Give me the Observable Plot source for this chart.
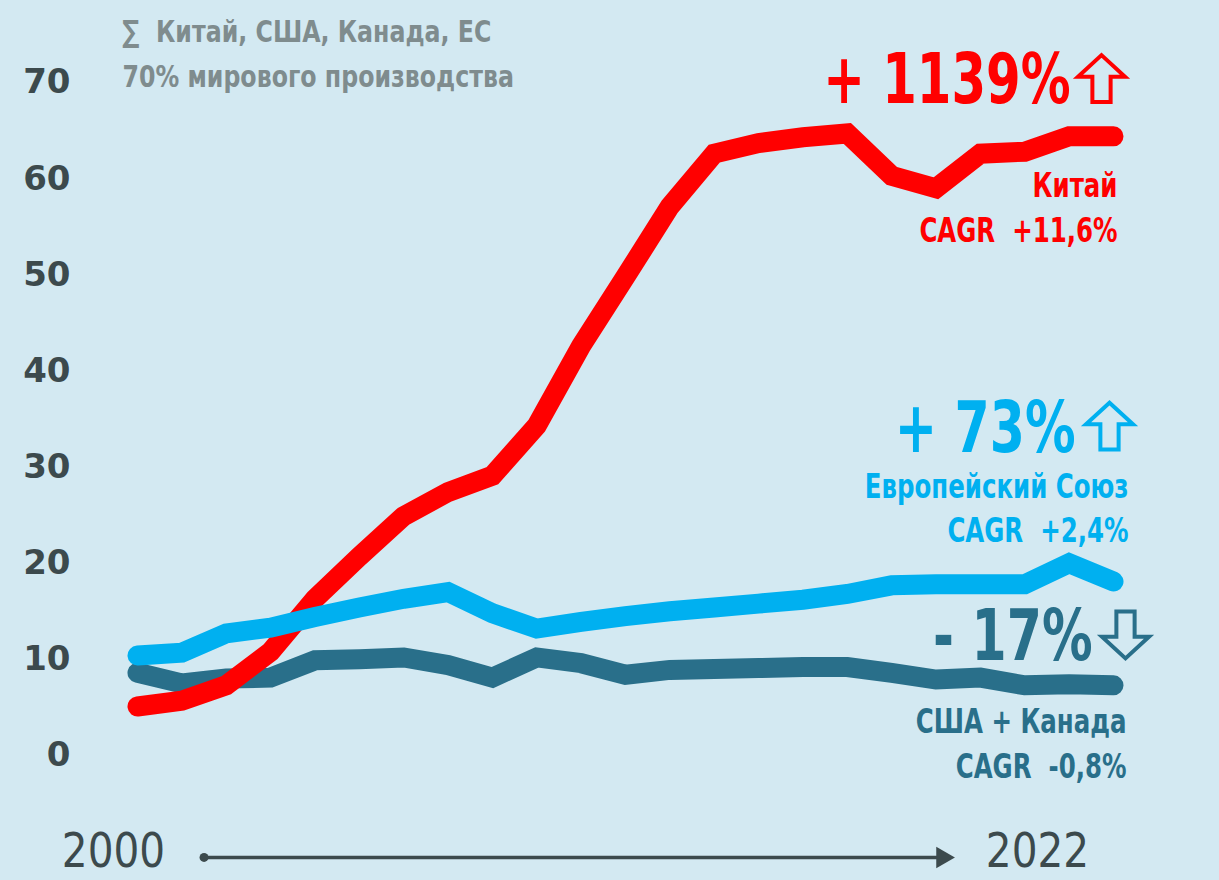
<!DOCTYPE html>
<html>
<head>
<meta charset="utf-8">
<script src="https://cdn.jsdelivr.net/npm/d3@7"></script>
<script src="https://cdn.jsdelivr.net/npm/@observablehq/plot@0.6"></script>
<style>
  html, body { margin: 0; padding: 0; background: #d3e9f2; overflow: hidden; }
  #chart svg { display: block; }
</style>
</head>
<body>
<div id="chart"></div>
<script>
const years = d3.range(2000, 2023);
const china = [5.1, 5.7, 7.3, 10.8, 16.3, 20.7, 24.9, 27.4, 29.1, 34.3, 42.6, 49.8, 57.1, 62.6, 63.7, 64.3, 64.7, 60.3, 59.0, 62.6, 62.8, 64.4, 64.4];
const eu = [10.4, 10.7, 12.7, 13.3, 14.4, 15.4, 16.3, 17.0, 14.8, 13.2, 13.9, 14.5, 15.0, 15.4, 15.8, 16.2, 16.8, 17.7, 17.8, 17.8, 17.8, 20.0, 18.1];
const usca = [8.6, 7.5, 8.0, 8.1, 9.9, 10.0, 10.2, 9.4, 8.1, 10.2, 9.6, 8.4, 8.9, 9.0, 9.1, 9.2, 9.2, 8.6, 7.9, 8.1, 7.3, 7.4, 7.3];
const seriesNames = ["США + Канада", "Китай", "Европейский Союз"];
const seriesColors = ["#296f8a", "#ff0000", "#00b0f0"];
const yTicks = [0, 10, 20, 30, 40, 50, 60, 70];

const rows = [];
[usca, china, eu].forEach((arr, k) => arr.forEach((v, i) => rows.push({series: seriesNames[k], year: years[i], value: v})));

const cond = "'DejaVu Sans Condensed', 'Liberation Sans Narrow', sans-serif";
const gray = "#7f8c8e";
const dark = "#3c4a4d";
// horizontal squeeze per font size (to imitate a narrow typeface)
const squeeze = {"31": 0.85, "34": 0.8, "48": 0.94, "70": 0.79, "72": 0.78};

// hollow block arrow symbols
function blockArrow(dir) {
  return {
    draw(ctx, size) {
      const s = Math.sqrt(size / Math.PI);
      const pts = [[0, -1], [0.98, -0.1], [0.38, -0.1], [0.38, 0.95], [-0.38, 0.95], [-0.38, -0.1], [-0.98, -0.1]];
      pts.forEach(([px, py], i) => {
        const X = px * s, Y = py * s * dir;
        if (i === 0) ctx.moveTo(X, Y); else ctx.lineTo(X, Y);
      });
      ctx.closePath();
    }
  };
}
const upArrow = blockArrow(1);
const downArrow = blockArrow(-1);

const chart = Plot.plot({
  width: 1219,
  height: 880,
  marginTop: 82,
  marginBottom: 125,
  marginLeft: 137,
  marginRight: 106,
  style: {background: "#d3e9f2"},
  x: {domain: [2000, 2022], axis: null},
  y: {domain: [0, 70], axis: null},
  color: {domain: seriesNames, range: seriesColors},
  marks: [
    Plot.axisY({ticks: yTicks, tickSize: 0, tickPadding: 67, label: null,
      fontSize: 34, fontWeight: "bold", fontFamily: "'DejaVu Sans', sans-serif", fill: dark}),
    Plot.line(rows, {x: "year", y: "value", z: "series", stroke: "series",
      strokeWidth: 20, strokeLinecap: "round", strokeLinejoin: "miter", strokeMiterlimit: 2}),
    // top-left note
    Plot.text(["∑  Китай, США, Канада, ЕС"], {x: 2000, y: 75.2, dx: -15, textAnchor: "start",
      fontSize: 31, fontWeight: "bold", fontFamily: cond, fill: gray}),
    Plot.text(["70% мирового производства"], {x: 2000, y: 70.6, dx: -15, textAnchor: "start",
      fontSize: 31, fontWeight: "bold", fontFamily: cond, fill: gray}),
    // China
    Plot.text(["+ 1139%"], {x: 2022, y: 70.2, dx: -43, textAnchor: "end",
      fontSize: 70, fontWeight: "bold", fontFamily: cond, fill: "#ff0000"}),
    Plot.dot([0], {x: 2022, y: 70.35, dx: -12, r: 24, symbol: upArrow, fill: "none", stroke: "#ff0000", strokeWidth: 4}),
    Plot.text(["Китай"], {x: 2022, y: 59.2, dx: 4, textAnchor: "end",
      fontSize: 34, fontWeight: "bold", fontFamily: cond, fill: "#ff0000"}),
    Plot.text(["CAGR  +11,6%"], {x: 2022, y: 54.5, dx: 4, textAnchor: "end",
      fontSize: 34, fontWeight: "bold", fontFamily: cond, fill: "#ff0000"}),
    // EU
    Plot.text(["+ 73%"], {x: 2022, y: 34.0, dx: -38, textAnchor: "end",
      fontSize: 72, fontWeight: "bold", fontFamily: cond, fill: "#00b0f0"}),
    Plot.dot([0], {x: 2022, y: 34.2, dx: -4, r: 24, symbol: upArrow, fill: "none", stroke: "#00b0f0", strokeWidth: 4}),
    Plot.text(["Европейский Союз"], {x: 2022, y: 27.9, dx: 15, textAnchor: "end",
      fontSize: 34, fontWeight: "bold", fontFamily: cond, fill: "#00b0f0"}),
    Plot.text(["CAGR  +2,4%"], {x: 2022, y: 23.3, dx: 15, textAnchor: "end",
      fontSize: 34, fontWeight: "bold", fontFamily: cond, fill: "#00b0f0"}),
    // US + Canada
    Plot.text(["- 17%"], {x: 2022, y: 12.3, dx: -21, textAnchor: "end",
      fontSize: 72, fontWeight: "bold", fontFamily: cond, fill: "#296f8a"}),
    Plot.dot([0], {x: 2022, y: 12.6, dx: 12, r: 24, symbol: downArrow, fill: "none", stroke: "#296f8a", strokeWidth: 4}),
    Plot.text(["США + Канада"], {x: 2022, y: 3.5, dx: 13, textAnchor: "end",
      fontSize: 34, fontWeight: "bold", fontFamily: cond, fill: "#296f8a"}),
    Plot.text(["CAGR  -0,8%"], {x: 2022, y: -1.2, dx: 13, textAnchor: "end",
      fontSize: 34, fontWeight: "bold", fontFamily: cond, fill: "#296f8a"}),
    // bottom timeline
    Plot.text(["2000"], {x: 2000, y: -10.05, dx: -24, fontSize: 48, fontFamily: cond, fill: dark}),
    Plot.text(["2022"], {x: 2022, y: -10.05, dx: -76, fontSize: 48, fontFamily: cond, fill: dark}),
    Plot.link([0], {x1: 2001.5, x2: 2018.1, y1: -10.6, y2: -10.6, stroke: dark, strokeWidth: 3.5}),
    Plot.dot([0], {x: 2001.5, y: -10.6, r: 4.5, fill: dark}),
    Plot.dot([0], {x: 2018.1, y: -10.6, dx: 2, symbol: "triangle", r: 8, rotate: 90, fill: dark})
  ]
});

// narrow the condensed texts horizontally around their anchor point
d3.select(chart).selectAll("g[aria-label='text']").each(function() {
  const g = d3.select(this);
  const k = squeeze[g.attr("font-size")];
  if (!k) return;
  g.selectAll("text").each(function() {
    const t = d3.select(this);
    const tr = t.attr("transform") || "";
    t.attr("transform", tr + ` scale(${k},1)`);
  });
});

document.getElementById("chart").append(chart);
</script>
</body>
</html>
